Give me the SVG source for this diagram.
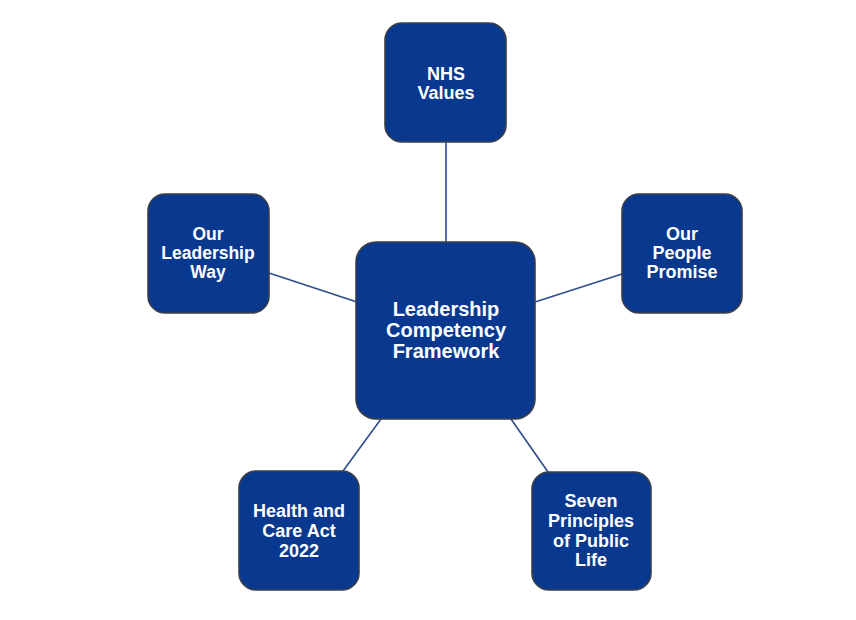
<svg xmlns="http://www.w3.org/2000/svg" width="856" height="620" viewBox="0 0 856 620">
<style>
.box{fill:#08398f;stroke:#3b3f48;stroke-width:1.6}
.t{fill:#ffffff;font-family:"Liberation Sans",Arial,sans-serif;font-weight:bold;font-size:18px;text-anchor:middle}
.tc{font-size:20px}
.c{stroke:#2d4c8c;stroke-width:1.6;fill:none}
</style>
<rect width="856" height="620" fill="#ffffff"/>
<g id="connectors">
<line class="c" x1="446" y1="142" x2="446" y2="242"/>
<line class="c" x1="269" y1="273" x2="357" y2="302"/>
<line class="c" x1="535" y1="302" x2="622" y2="274"/>
<line class="c" x1="343" y1="471" x2="381" y2="419"/>
<line class="c" x1="511" y1="419" x2="548" y2="472"/>
</g>
<g id="center">
<rect class="box" x="356" y="242" width="179" height="177" rx="20"/>
<text class="t tc" x="446" y="316">Leadership</text>
<text class="t tc" x="446" y="337">Competency</text>
<text class="t tc" x="446" y="358">Framework</text>
</g>
<g id="nhs-values">
<rect class="box" x="385" y="23" width="121" height="119" rx="17"/>
<text class="t" x="446" y="80">NHS</text>
<text class="t" x="446" y="99">Values</text>
</g>
<g id="our-leadership-way">
<rect class="box" x="148" y="194" width="121" height="119" rx="17"/>
<text class="t" x="208" y="240" style="font-size:17.5px">Our</text>
<text class="t" x="208" y="259" style="font-size:17.5px">Leadership</text>
<text class="t" x="208" y="278" style="font-size:17.5px">Way</text>
</g>
<g id="our-people-promise">
<rect class="box" x="622" y="194" width="120" height="119" rx="17"/>
<text class="t" x="682" y="240">Our</text>
<text class="t" x="682" y="259">People</text>
<text class="t" x="682" y="278">Promise</text>
</g>
<g id="health-care-act">
<rect class="box" x="239" y="471" width="120" height="119" rx="17"/>
<text class="t" x="299" y="517">Health and</text>
<text class="t" x="299" y="537">Care Act</text>
<text class="t" x="299" y="557">2022</text>
</g>
<g id="seven-principles">
<rect class="box" x="532" y="472" width="119" height="118" rx="17"/>
<text class="t" x="591" y="507">Seven</text>
<text class="t" x="591" y="527">Principles</text>
<text class="t" x="591" y="547">of Public</text>
<text class="t" x="591" y="566">Life</text>
</g>
</svg>
